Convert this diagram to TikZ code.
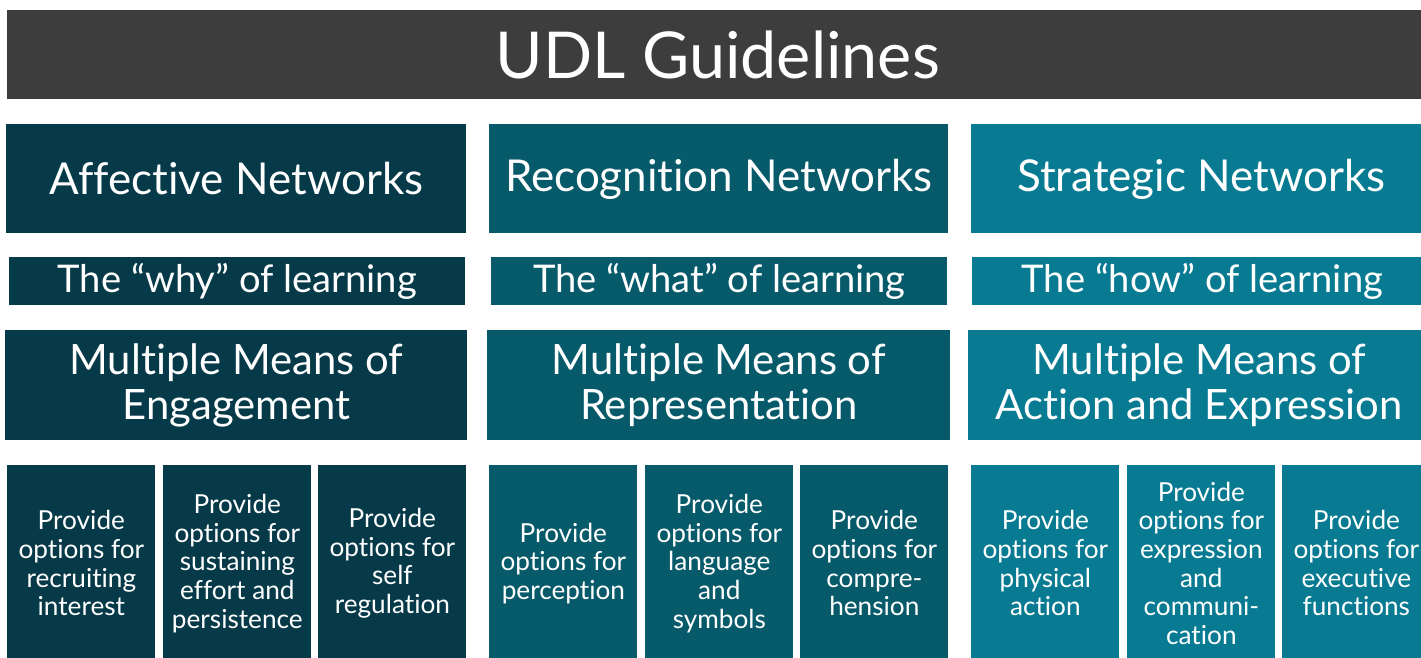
\documentclass[tikz,border=0pt]{standalone}
\usepackage{fontspec}
\setmainfont{Lato}[Ligatures=NoCommon]
\usetikzlibrary{positioning}
\definecolor{headgray}{HTML}{3D3D3D}
\definecolor{affteal}{HTML}{073A48}
\definecolor{recteal}{HTML}{075A6A}
\definecolor{strteal}{HTML}{087B92}
\newcommand{\px}{0.02cm}
\tikzset{
  box/.style={rectangle, anchor=north west, inner sep=0pt, text=white, align=center},
  titlebar/.style={box, fill=headgray, font=\fontsize{36.8}{42}\selectfont},
  network/.style={box, minimum height=109*\px, font=\fontsize{25}{30}\selectfont},
  why/.style={box, minimum height=48*\px, font=\fontsize{21.7}{25}\selectfont},
  means/.style={box, minimum height=110*\px, font=\fontsize{23.8}{25.6}\selectfont},
  option/.style={box, minimum width=148*\px, minimum height=196*\px, font=\fontsize{14.9}{16.3}\selectfont},
}
\begin{document}
\begin{tikzpicture}[x=0.02cm, y=-0.02cm]
\useasboundingbox (0,0) rectangle (1421,657);
\clip (0,0) rectangle (1421,657);
\node (title) [titlebar, minimum width=1421*\px, minimum height=89*\px] at (7,10) {UDL Guidelines};
% networks
\node (aff1) [network, fill=affteal, minimum width=460*\px] at (6,124) {Affective Networks};
\node (rec1) [network, fill=recteal, minimum width=459*\px] at (489,124) {Recognition Networks};
\node (str1) [network, fill=strteal, minimum width=460*\px] at (971,124) {Strategic Networks};
% the why, what and how
\node (aff2) [why, fill=affteal, minimum width=456*\px] at (9,257) {The “why” of learning};
\node (rec2) [why, fill=recteal, minimum width=456*\px] at (491,257) {The “what” of learning};
\node (str2) [why, fill=strteal, minimum width=460*\px] at (972,257) {The “how” of learning};
% multiple means
\node (aff3) [means, fill=affteal, minimum width=462*\px] at (5,330) {Multiple Means of\\Engagement};
\node (rec3) [means, fill=recteal, minimum width=463*\px] at (487,330) {Multiple Means of\\Representation};
\node (str3) [means, fill=strteal, minimum width=462*\px] at (968,330) {Multiple Means of\\Action and Expression};
% guidelines
\node (aff4a) [option, fill=affteal] at (7,465) {Provide\\options for\\recruiting\\interest};
\node (aff4b) [option, fill=affteal] at (163,465) {Provide\\options for\\sustaining\\effort and\\persistence};
\node (aff4c) [option, fill=affteal] at (318,465) {Provide\\options for\\self\\regulation};
\node (rec4a) [option, fill=recteal] at (489,465) {Provide\\options for\\perception};
\node (rec4b) [option, fill=recteal] at (645,465) {Provide\\options for\\language\\and\\symbols};
\node (rec4c) [option, fill=recteal] at (800,465) {Provide\\options for\\compre-\\hension};
\node (str4a) [option, fill=strteal] at (971,465) {Provide\\options for\\physical\\action};
\node (str4b) [option, fill=strteal] at (1127,465) {Provide\\options for\\expression\\and\\communi-\\cation};
\node (str4c) [option, fill=strteal] at (1282,465) {Provide\\options for\\executive\\functions};
\end{tikzpicture}
\end{document}
